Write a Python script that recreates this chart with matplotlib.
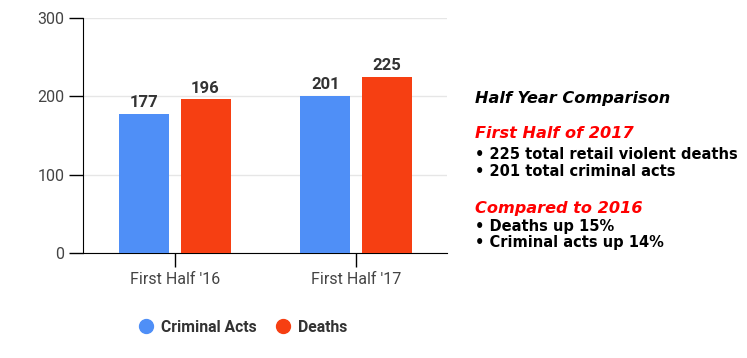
import matplotlib
matplotlib.use("Agg")
import matplotlib.pyplot as plt
from matplotlib.lines import Line2D

categories = ["First Half '16", "First Half '17"]
criminal_acts = [177, 201]
deaths = [196, 225]
series_names = ["Criminal Acts", "Deaths"]
colors = ["#4f8ff7", "#f63f12"]
yticks = [0, 100, 200, 300]

fig = plt.figure(figsize=(7.47, 3.58), dpi=100)
W, H = 747, 358
ax = fig.add_axes([83 / W, 1 - 253 / H, (447 - 83) / W, (253 - 18) / H])

x = list(range(len(categories)))
bw = 0.276
off = 0.169
b1 = ax.bar([i - off for i in x], criminal_acts, width=bw, color=colors[0], zorder=3)
b2 = ax.bar([i + off for i in x], deaths, width=bw, color=colors[1], zorder=3)
for bars, vals in ((b1, criminal_acts), (b2, deaths)):
    for r, v in zip(bars, vals):
        ax.text(r.get_x() + r.get_width() / 2, v + 5, str(v), ha="center", va="bottom",
                fontsize=12, fontweight="bold", family="Roboto", color="#333333")

ax.set_xlim(-0.508, 1.503)
ax.set_ylim(0, 300)
ax.set_yticks(yticks)
ax.set_xticks(x)
ax.set_xticklabels(categories)
ax.grid(axis="y", color="#e6e6e6", linewidth=1, zorder=0)
for s in ("top", "right"):
    ax.spines[s].set_visible(False)
ax.spines["left"].set_color("black")
ax.spines["bottom"].set_color("black")
ax.tick_params(axis="both", length=10, width=1, color="black", labelsize=11.5, labelcolor="#444444")
for lab in ax.get_xticklabels() + ax.get_yticklabels():
    lab.set_family("Roboto")

# legend
handles = [Line2D([], [], marker="o", linestyle="none", markersize=10, color=c) for c in colors]
leg = fig.legend(handles, series_names, loc="center", bbox_to_anchor=(243 / W, 1 - 327 / H),
                 ncol=2, frameon=False, handlelength=1.0, handletextpad=0.45, columnspacing=1.2,
                 prop={"family": "Roboto", "weight": "bold", "size": 11.3})
for t in leg.get_texts():
    t.set_color("#333333")

# annotation text
tx = 475 / W
fam = "DejaVu Sans"
hs = 11.6
bs = 10.5
fig.text(tx, 1 - 98 / H, "Half Year Comparison", fontsize=hs, fontweight="bold", style="italic",
         family=fam, color="black", va="center")
fig.text(tx, 1 - 134 / H, "First Half of 2017", fontsize=hs, fontweight="bold", style="italic",
         family=fam, color="#ff0000", va="center")
fig.text(tx, 1 - 154 / H, "\u2022 225 total retail violent deaths", fontsize=bs, fontweight="bold",
         family=fam, color="black", va="center")
fig.text(tx, 1 - 171 / H, "\u2022 201 total criminal acts", fontsize=bs, fontweight="bold",
         family=fam, color="black", va="center")
fig.text(tx, 1 - 208 / H, "Compared to 2016", fontsize=hs, fontweight="bold", style="italic",
         family=fam, color="#ff0000", va="center")
fig.text(tx, 1 - 227 / H, "\u2022 Deaths up 15%", fontsize=bs, fontweight="bold",
         family=fam, color="black", va="center")
fig.text(tx, 1 - 243 / H, "\u2022 Criminal acts up 14%", fontsize=bs, fontweight="bold",
         family=fam, color="black", va="center")

fig.savefig("out.png", dpi=100)
